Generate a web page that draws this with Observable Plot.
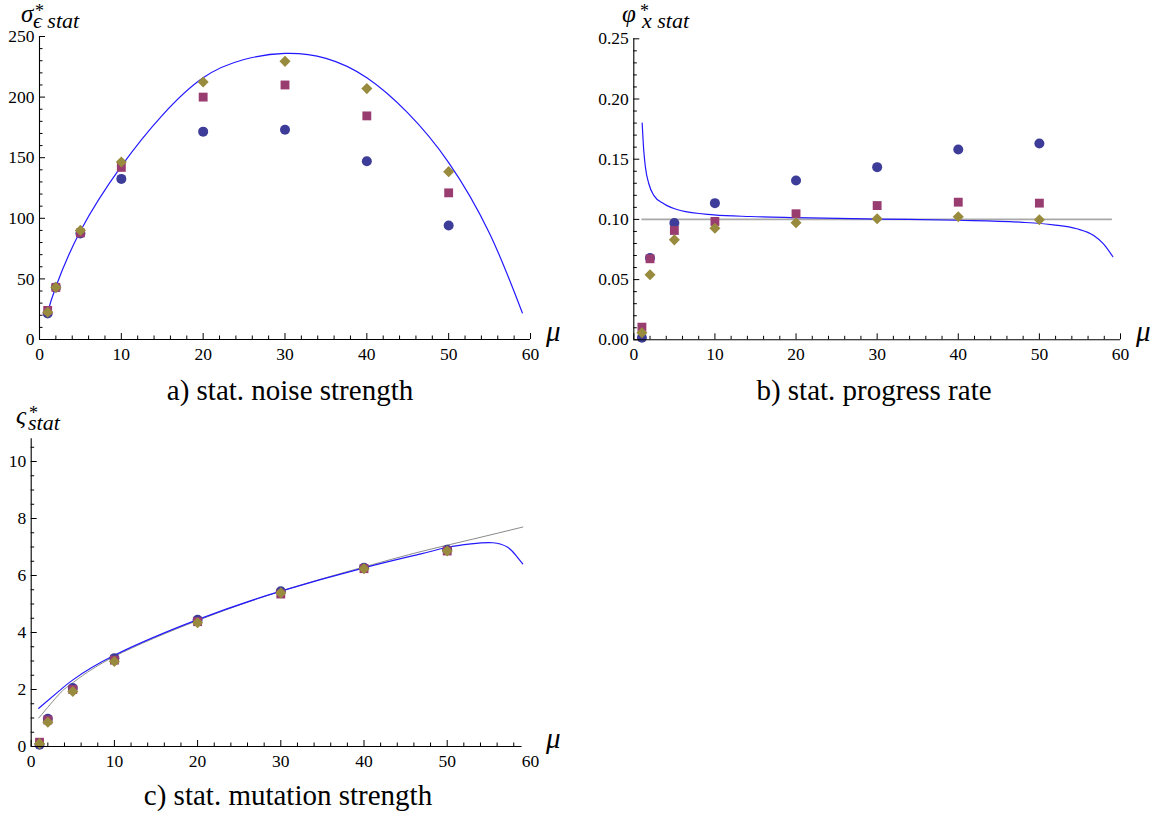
<!DOCTYPE html>
<html><head><meta charset="utf-8">
<script src="https://cdn.jsdelivr.net/npm/d3@7"></script>
<script src="https://cdn.jsdelivr.net/npm/@observablehq/plot@0.6"></script>
<style>
body{margin:0;background:#fff;}
#root{position:relative;width:1162px;height:816px;overflow:hidden;background:#fff;}
.panel{position:absolute;}
#overlay{position:absolute;left:0;top:0;pointer-events:none;}
</style></head>
<body><div id="root"></div>
<script>
// ---------- data ----------
const mu = [1, 2, 5, 10, 20, 30, 40, 50];
// a) stat. noise strength
const aBlue    = [21.5, 43, 87.5, 132.5, 171.5, 173, 147, 94];
const aMagenta = [24, 43, 88, 142, 200, 210, 184.5, 121];
const aOlive   = [22.5, 43, 90, 146.5, 212.5, 229.5, 207, 138.5];
const aCurveMu = [1, 2, 5, 10, 15, 20, 25, 30, 35, 40, 45, 50, 55, 59];
const aCurve   = [22.5, 43.5, 89.5, 143, 185, 216, 231, 236, 232, 216, 187, 146, 87.5, 22];
// b) stat. progress rate
const bBlue    = [0.0017, 0.068, 0.097, 0.1135, 0.1323, 0.1434, 0.158, 0.163];
const bMagenta = [0.0105, 0.0673, 0.0908, 0.0983, 0.1047, 0.1115, 0.1143, 0.1135];
const bOlive   = [0.0058, 0.054, 0.083, 0.0927, 0.0972, 0.1005, 0.1022, 0.0997];
const bCurveMu = [1.03, 1.23, 1.44, 1.85, 2.46, 3.7, 5.75, 9.86, 14.4, 20, 30, 40, 47.6, 51.7, 54.6, 56.7, 57.9, 59.06];
const bCurve   = [0.180, 0.157, 0.143, 0.1296, 0.120, 0.113, 0.1074, 0.1038, 0.1024, 0.1015, 0.1003, 0.0993, 0.0977, 0.0955, 0.0922, 0.0866, 0.0797, 0.069];
const bRefValue = 0.1;
const bRefRange = [1, 59];
// c) stat. mutation strength
const cBlue    = [0.06, 0.97, 2.05, 3.1, 4.45, 5.45, 6.27, 6.9];
const cMagenta = [0.15, 0.93, 2.0, 3.03, 4.38, 5.35, 6.24, 6.86];
const cOlive   = [0.1, 0.85, 1.93, 2.98, 4.34, 5.39, 6.24, 6.86];
const cCurveMu = [0.91, 3.4, 4.93, 9.94, 20, 30, 40, 46.85, 50.06, 52.86, 55.47, 57.28, 58.28, 59.08];
const cCurve   = [1.34, 1.96, 2.32, 3.19, 4.45, 5.45, 6.27, 6.76, 6.99, 7.11, 7.15, 6.99, 6.70, 6.41];
const cRefMu   = [0.91, 3.4, 4.93, 9.94, 20, 30, 40, 46.85, 53, 59.08];
const cRef     = [1.0, 1.85, 2.22, 3.15, 4.42, 5.45, 6.3, 6.84, 7.27, 7.7];
// ticks
const xTicks = [0, 10, 20, 30, 40, 50, 60];
const aYTicks = [0, 50, 100, 150, 200, 250];
const bYTicks = [0, 0.05, 0.10, 0.15, 0.20, 0.25];
const cYTicks = [0, 2, 4, 6, 8, 10];

const COL_BLUE = "#3d3d99", COL_MAG = "#993d71", COL_OLIVE = "#998b3d";
const LINE_BLUE = "#2218ff";
const SERIF = "'Liberation Serif', 'Times New Roman', serif";

const zip = (xs, ys) => xs.map((x, i) => ({x, y: ys[i]}));

function panel(o) {
  const fw = o.width - o.ml - o.mr, fh = o.height - o.mt - o.mb;
  const majorLen = 6, minorLen = 3.5;
  const xMajor = o.xTicks.filter(t => t <= o.xAxisEnd);
  const xMinor = d3.range(o.xMinorStep, o.xAxisEnd + 1e-9, o.xMinorStep).filter(t => !o.xTicks.includes(t));
  const yMinor = d3.range(o.yMinorStep, o.yDomain[1] + 1e-9, o.yMinorStep)
    .map(v => +v.toFixed(6)).filter(t => !o.yTicks.some(m => Math.abs(m - t) < 1e-9));
  const dotOpts = {r: 5, stroke: "none"};
  const p = Plot.plot({
    width: o.width, height: o.height,
    marginLeft: o.ml, marginRight: o.mr, marginTop: o.mt, marginBottom: o.mb,
    x: {domain: [0, 60]}, y: {domain: o.yDomain},
    style: {fontFamily: SERIF, fontSize: "17.5px", color: "black", background: "transparent", overflow: "visible"},
    marks: [
      ...o.lines,
      Plot.dot(zip(mu, o.blue), {x: "x", y: "y", symbol: "circle", fill: COL_BLUE, ...dotOpts}),
      Plot.dot(zip(mu, o.magenta), {x: "x", y: "y", symbol: "square", fill: COL_MAG, ...dotOpts}),
      Plot.dot(zip(mu, o.olive), {x: "x", y: "y", symbol: "diamond2", fill: COL_OLIVE, ...dotOpts}),
      // axis lines
      Plot.ruleY([o.yDomain[0]], {x1: 0, x2: o.xAxisEnd, stroke: "black", strokeWidth: 1.1}),
      Plot.ruleX([0], {y1: o.yDomain[0], y2: o.yDomain[1], stroke: "black", strokeWidth: 1.1}),
      // inward ticks
      Plot.tickX(xMajor, {x: d => d, insetTop: fh - majorLen, stroke: "black"}),
      Plot.tickX(xMinor, {x: d => d, insetTop: fh - minorLen, stroke: "black"}),
      Plot.tickY(o.yTicks, {y: d => d, insetRight: fw - majorLen, stroke: "black"}),
      Plot.tickY(yMinor, {y: d => d, insetRight: fw - minorLen, stroke: "black"}),
      // labels
      Plot.axisX({ticks: o.xTicks, tickSize: 0, tickPadding: 8, label: null, fontSize: 17.5, tickFormat: d => String(d)}),
      Plot.axisY({ticks: o.yTicks, tickSize: 0, tickPadding: 5, label: null, fontSize: 17.5, tickFormat: o.yFmt})
    ]
  });
  p.classList.add("panel");
  p.style.left = o.left + "px";
  p.style.top = o.top + "px";
  document.getElementById("root").appendChild(p);
}

// panel a
panel({
  left: 0, top: 0, width: 570, height: 375, ml: 39, mr: 40, mt: 36, mb: 36,
  yDomain: [0, 250], xTicks, yTicks: aYTicks, xMinorStep: 2, yMinorStep: 10, xAxisEnd: 60,
  yFmt: d => String(d),
  blue: aBlue, magenta: aMagenta, olive: aOlive,
  lines: [Plot.line(zip(aCurveMu, aCurve), {x: "x", y: "y", stroke: LINE_BLUE, strokeWidth: 1.2, curve: "natural"})]
});
// panel b
panel({
  left: 590, top: 0, width: 572, height: 375, ml: 43.3, mr: 42, mt: 38.3, mb: 35.7,
  yDomain: [0, 0.25], xTicks, yTicks: bYTicks, xMinorStep: 2, yMinorStep: 0.01, xAxisEnd: 60,
  yFmt: d3.format(".2f"),
  blue: bBlue, magenta: bMagenta, olive: bOlive,
  lines: [
    Plot.ruleY([bRefValue], {x1: bRefRange[0], x2: bRefRange[1], stroke: "#a8a8a8", strokeWidth: 1.8}),
    Plot.line(zip(bCurveMu, bCurve), {x: "x", y: "y", stroke: LINE_BLUE, strokeWidth: 1.2, curve: "monotone-x"})
  ]
});
// panel c
panel({
  left: 0, top: 400, width: 570, height: 375, ml: 30.7, mr: 40.1, mt: 38.2, mb: 29,
  yDomain: [0, 10.8], xTicks, yTicks: cYTicks, xMinorStep: 2, yMinorStep: 0.5, xAxisEnd: 59,
  yFmt: d => String(d),
  blue: cBlue, magenta: cMagenta, olive: cOlive,
  lines: [
    Plot.line(zip(cRefMu, cRef), {x: "x", y: "y", stroke: "#8a8a8a", strokeWidth: 1, curve: "natural"}),
    Plot.line(zip(cCurveMu, cCurve), {x: "x", y: "y", stroke: LINE_BLUE, strokeWidth: 1.2, curve: "natural"})
  ]
});

// ---------- overlay text: axis titles and captions ----------
const NS = "http://www.w3.org/2000/svg";
const ov = document.createElementNS(NS, "svg");
ov.setAttribute("id", "overlay");
ov.setAttribute("width", 1162); ov.setAttribute("height", 816);
ov.setAttribute("font-family", SERIF);
document.getElementById("root").appendChild(ov);
function txt(s, x, y, size, italic, anchor) {
  const t = document.createElementNS(NS, "text");
  t.setAttribute("x", x); t.setAttribute("y", y);
  t.setAttribute("font-size", size);
  if (italic) t.setAttribute("font-style", "italic");
  if (anchor) t.setAttribute("text-anchor", anchor);
  t.textContent = s;
  ov.appendChild(t);
  return t;
}
// math title: base symbol with superscript * and subscript
function mathTitle(base, sub, x, y, supX, subX) {
  const t = document.createElementNS(NS, "text");
  t.setAttribute("x", x); t.setAttribute("y", y);
  t.setAttribute("font-style", "italic");
  t.setAttribute("font-size", 25);
  const b = document.createElementNS(NS, "tspan"); b.textContent = base; t.appendChild(b);
  const s = document.createElementNS(NS, "tspan");
  s.setAttribute("x", supX); s.setAttribute("dy", -5.5);
  s.setAttribute("font-size", 18); s.setAttribute("font-style", "normal");
  s.textContent = "*"; t.appendChild(s);
  const u = document.createElementNS(NS, "tspan");
  u.setAttribute("x", subX); u.setAttribute("dy", 11.5);
  u.setAttribute("font-size", 22);
  u.textContent = sub; t.appendChild(u);
  ov.appendChild(t);
}
mathTitle("σ", "ϵ stat", 21, 22, 35, 33);
mathTitle("φ", "x stat", 622, 22, 640, 642);
mathTitle("ς", "stat", 16, 424, 29, 28);
// μ labels
txt("μ", 546, 341, 29, true);
txt("μ", 1136, 341, 29, true);
txt("μ", 546, 748, 29, true);
// captions
txt("a) stat. noise strength", 290, 400, 29, false, "middle");
txt("b) stat. progress rate", 874, 400, 29, false, "middle");
txt("c) stat. mutation strength", 288, 805, 29, false, "middle");
</script>
</body></html>
